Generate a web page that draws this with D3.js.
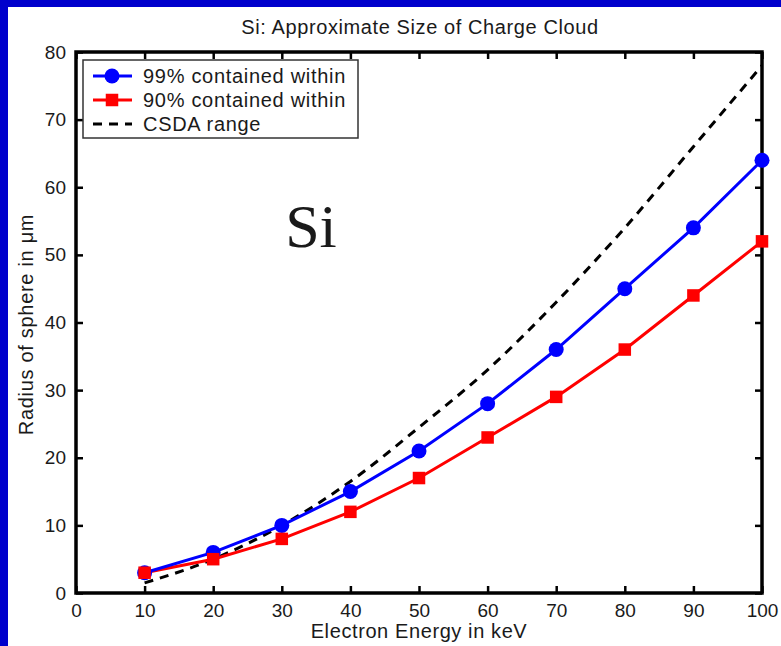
<!DOCTYPE html>
<html>
<head>
<meta charset="utf-8">
<script src="https://cdn.jsdelivr.net/npm/d3@7"></script>
<style>
  html, body { margin: 0; padding: 0; background: #fff; overflow: hidden; }
  svg { display: block; }
  text { font-family: "Liberation Sans", Arial, Helvetica, sans-serif; fill: #1a1a1a; }
</style>
</head>
<body>
<script>
// Electron energy (keV) at which each radius was evaluated
const energies = [10, 20, 30, 40, 50, 60, 70, 80, 90, 100];
// Radius of sphere (µm) containing 99% / 90% of the charge
const radius99 = [3, 6, 10, 15, 21, 28, 36, 45, 54, 64];
const radius90 = [3, 5, 8, 12, 17, 23, 29, 36, 44, 52];
// Continuous-slowing-down-approximation range (µm)
const csdaRange = [1.5, 5, 10, 16.5, 24.5, 33, 43, 54, 66, 78];

const xTicks = [0, 10, 20, 30, 40, 50, 60, 70, 80, 90, 100];
const yTicks = [0, 10, 20, 30, 40, 50, 60, 70, 80];

const legendItems = [
  { label: "99% contained within", color: "#0000ff", marker: "circle", dash: null },
  { label: "90% contained within", color: "#ff0000", marker: "square", dash: null },
  { label: "CSDA range", color: "#000000", marker: null, dash: "9,7" }
];

const W = 781, H = 646;
const svg = d3.select("body").append("svg").attr("width", W).attr("height", H);

// blue frame (left and top)
svg.append("rect").attr("x", 0).attr("y", 0).attr("width", W).attr("height", H).attr("fill", "#0000cc");
svg.append("rect").attr("x", 8).attr("y", 7).attr("width", W - 8).attr("height", H - 7).attr("fill", "#ffffff");

const plot = { left: 76, right: 762, top: 52, bottom: 593 };
const x = d3.scaleLinear().domain([0, 100]).range([plot.left, plot.right]);
const y = d3.scaleLinear().domain([0, 80]).range([plot.bottom, plot.top]);

const tickLen = 7;
const fs = 19;

// axes: bottom/left with labels, top/right mirrored ticks pointing inward
const axisBottom = d3.axisBottom(x).tickValues(xTicks).tickSizeInner(-tickLen).tickSizeOuter(0).tickPadding(11);
const axisTop = d3.axisTop(x).tickValues(xTicks).tickSizeInner(-tickLen).tickSizeOuter(0).tickFormat("");
const axisLeft = d3.axisLeft(y).tickValues(yTicks).tickSizeInner(-tickLen).tickSizeOuter(0).tickPadding(10);
const axisRight = d3.axisRight(y).tickValues(yTicks).tickSizeInner(-tickLen).tickSizeOuter(0).tickFormat("");

function styleAxis(g) {
  g.select(".domain").remove();
  g.selectAll(".tick line").attr("stroke", "#000").attr("stroke-width", 2.5);
  g.selectAll(".tick text").attr("font-size", fs).attr("fill", "#1a1a1a")
    .attr("font-family", "'Liberation Sans', Arial, sans-serif");
}

svg.append("g").attr("transform", `translate(0,${plot.bottom})`).call(axisBottom).call(styleAxis);
svg.append("g").attr("transform", `translate(0,${plot.top})`).call(axisTop).call(styleAxis);
svg.append("g").attr("transform", `translate(${plot.left},0)`).call(axisLeft).call(styleAxis);
svg.append("g").attr("transform", `translate(${plot.right},0)`).call(axisRight).call(styleAxis);

// plot box
svg.append("rect")
  .attr("x", plot.left).attr("y", plot.top)
  .attr("width", plot.right - plot.left).attr("height", plot.bottom - plot.top)
  .attr("fill", "none").attr("stroke", "#000").attr("stroke-width", 3.5);

// CSDA curve
const csdaLine = d3.line().x((d, i) => x(energies[i])).y(d => y(d)).curve(d3.curveMonotoneX);
svg.append("path").datum(csdaRange)
  .attr("d", csdaLine).attr("fill", "none").attr("stroke", "#000")
  .attr("stroke-width", 3).attr("stroke-dasharray", "9,7");

const seriesLine = d3.line().x((d, i) => x(energies[i])).y(d => y(d));

// 90% series (red squares)
svg.append("path").datum(radius90).attr("d", seriesLine)
  .attr("fill", "none").attr("stroke", "#ff0000").attr("stroke-width", 3);
// 99% series (blue circles)
svg.append("path").datum(radius99).attr("d", seriesLine)
  .attr("fill", "none").attr("stroke", "#0000ff").attr("stroke-width", 3);

svg.append("g").selectAll("circle").data(radius99).join("circle")
  .attr("cx", (d, i) => x(energies[i])).attr("cy", d => y(d)).attr("r", 7.5)
  .attr("fill", "#0000ff");

const sq = 12.5;
svg.append("g").selectAll("rect").data(radius90).join("rect")
  .attr("x", (d, i) => x(energies[i]) - sq / 2).attr("y", d => y(d) - sq / 2)
  .attr("width", sq).attr("height", sq).attr("fill", "#ff0000");

// title and axis labels
svg.append("text").attr("x", 420).attr("y", 34).attr("text-anchor", "middle")
  .attr("font-size", 20).attr("letter-spacing", 0.6).text("Si: Approximate Size of Charge Cloud");
svg.append("text").attr("x", 419).attr("y", 638).attr("text-anchor", "middle")
  .attr("font-size", 20).attr("letter-spacing", 0.6).text("Electron Energy in keV");
svg.append("text").attr("transform", `translate(33,${(plot.top + plot.bottom) / 2 + 2}) rotate(-90)`)
  .attr("text-anchor", "middle").attr("font-size", 20).attr("letter-spacing", 0.7)
  .text("Radius of sphere in μm");

// big element annotation
svg.append("text").attr("x", 311).attr("y", 247).attr("text-anchor", "middle")
  .style("font-family", "'Liberation Serif', 'Times New Roman', serif")
  .attr("font-size", 62).attr("fill", "#000").text("Si");

// legend
const lg = svg.append("g");
lg.append("rect").attr("x", 83).attr("y", 60).attr("width", 275).attr("height", 78)
  .attr("fill", "#fff").attr("stroke", "#333").attr("stroke-width", 1.5);
legendItems.forEach((it, i) => {
  const cy = 76 + i * 24;
  lg.append("line").attr("x1", 93).attr("x2", 132).attr("y1", cy).attr("y2", cy)
    .attr("stroke", it.color).attr("stroke-width", 3)
    .attr("stroke-dasharray", it.dash);
  if (it.marker === "circle") {
    lg.append("circle").attr("cx", 112).attr("cy", cy).attr("r", 7.5).attr("fill", it.color);
  } else if (it.marker === "square") {
    lg.append("rect").attr("x", 112 - sq / 2).attr("y", cy - sq / 2).attr("width", sq).attr("height", sq).attr("fill", it.color);
  }
  lg.append("text").attr("x", 143).attr("y", cy + 7).attr("font-size", 20)
    .attr("letter-spacing", 0.7).text(it.label);
});
</script>
</body>
</html>
